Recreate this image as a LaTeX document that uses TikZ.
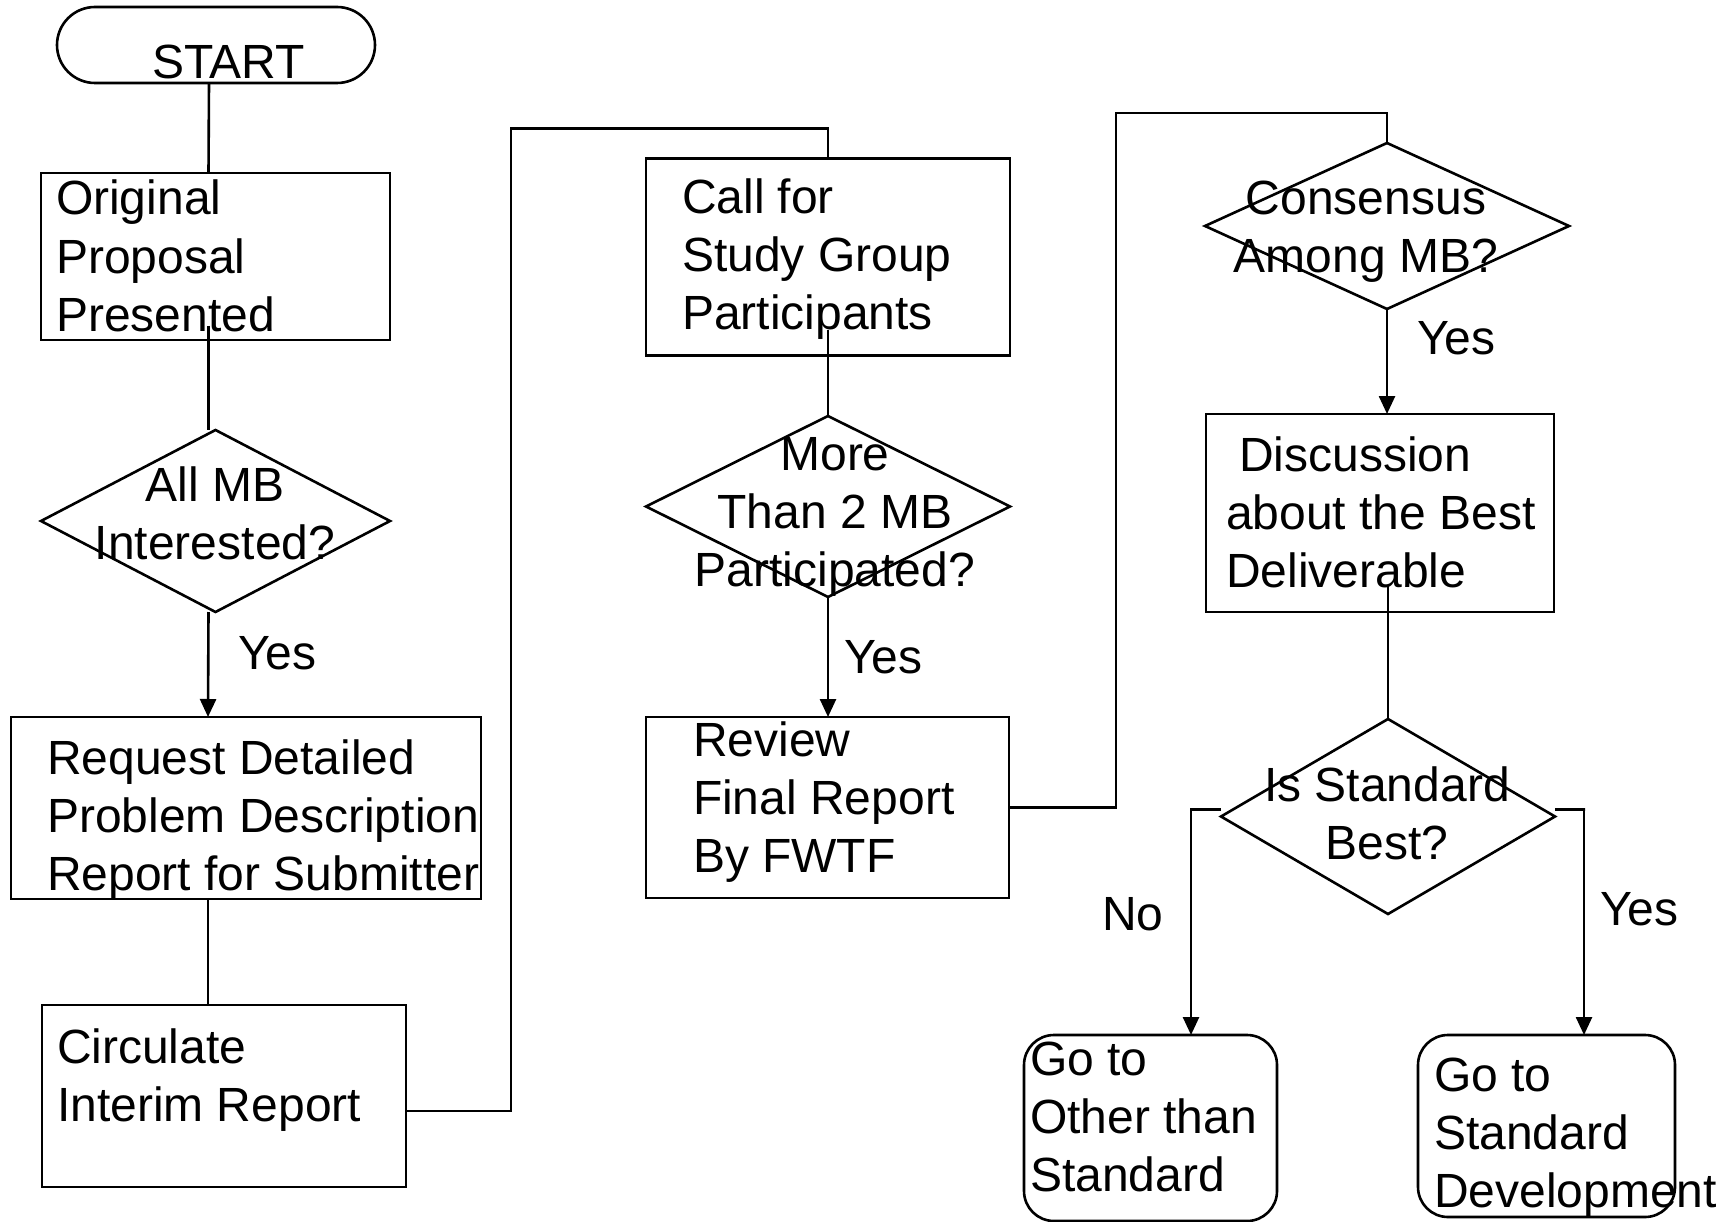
\documentclass[tikz,border=0pt]{standalone}
\usepackage{fontspec}
\setmainfont{Liberation Sans}
\usetikzlibrary{shapes.geometric,arrows.meta}
\begin{document}
\begin{tikzpicture}[x=1pt,y=-1pt,
  every node/.style={inner sep=0pt,outer sep=0pt},
  box/.style={draw,line width=2.6pt,rectangle},
  dia/.style={draw,line width=2.6pt,diamond},
  txt/.style={font=\fontsize{48pt}{58pt}\selectfont,align=left,anchor=base west},
  ctxt/.style={font=\fontsize{48pt}{58pt}\selectfont,align=center,anchor=base},
  conn/.style={line width=2.6pt},
  arr/.style={line width=2.6pt,-{Triangle[length=18pt,width=16pt]}}
]
\fill[white] (0,0) rectangle (1731,1222);
\useasboundingbox (0,0) rectangle (1731,1222);

% shapes
\node[box,rounded corners=38pt,minimum width=318pt,minimum height=76pt] (start) at (216,45) {};
\node[box,minimum width=349pt,minimum height=167pt] (orig) at (215.5,256.5) {};
\node[dia,minimum width=349pt,minimum height=182pt] (allmb) at (215.5,521) {};
\node[box,minimum width=470pt,minimum height=182pt] (req) at (246,808) {};
\node[box,minimum width=364pt,minimum height=182pt] (circ) at (224,1096) {};
\node[box,minimum width=364pt,minimum height=197pt] (call) at (828,257) {};
\node[dia,minimum width=364pt,minimum height=181pt] (more) at (828,506.5) {};
\node[box,minimum width=363pt,minimum height=181pt] (rev) at (827.5,807.5) {};
\node[dia,minimum width=364pt,minimum height=166pt] (cons) at (1387,226) {};
\node[box,minimum width=348pt,minimum height=198pt] (disc) at (1380,513) {};
\node[dia,minimum width=334pt,minimum height=195pt] (isstd) at (1388,816.5) {};
\node[box,rounded corners=30pt,minimum width=253pt,minimum height=186pt] (other) at (1150.5,1128) {};
\node[box,rounded corners=30pt,minimum width=257pt,minimum height=182pt] (gostd) at (1546.5,1126) {};

% texts (anchored at the baseline of the last line)
\node[txt] (tstart) at (152,79) {START};
\node[txt] (torig) at (56,331) {Original\\Proposal\\Presented};
\node[ctxt] (tallmb) at (215,559.5) {All MB\\Interested?};
\node[txt] (treq) at (47,890) {Request Detailed\\Problem Description\\Report for Submitter};
\node[txt] (tcirc) at (57,1121) {Circulate\\Interim Report};
\node[txt] (tcall) at (682,330) {Call for\\Study Group\\Participants};
\node[ctxt] (tmore) at (835,586) {More\\Than 2 MB\\Participated?};
\node[txt] (trev) at (693,872) {Review\\Final Report\\By FWTF};
\node[ctxt] (tcons) at (1366,273) {Consensus\\Among MB?};
\node[txt] (tdisc) at (1226,587) {\hspace*{13pt}Discussion\\about the Best\\Deliverable};
\node[ctxt] (tisstd) at (1387,859) {Is Standard\\Best?};
\node[txt] (tother) at (1030,1191) {Go to\\Other than\\Standard};
\node[txt] (tgostd) at (1434,1207) {Go to\\Standard\\Development};

% labels
\node[txt] (yes1) at (238,669) {Yes};
\node[txt] (yes2) at (844,673) {Yes};
\node[txt] (yes3) at (1417,355) {Yes};
\node[txt] (no4) at (1102,930) {No};
\node[txt] (yes4) at (1600,925) {Yes};

% connectors
\draw[conn] ([xshift=-7pt]start.south) -- ([xshift=-7pt]orig.north);
\draw[conn] ([xshift=-7pt,yshift=14pt]orig.south) -- ([xshift=-7pt]allmb.north);
\draw[arr] ([xshift=-7pt]allmb.south) -- ([xshift=-38pt]req.north);
\draw[conn] ([xshift=-38pt]req.south) -- ([xshift=-16pt]circ.north);
\draw[conn] ([yshift=-15pt]circ.east) -- ++(105,0) |- ([yshift=30pt]call.north) -- (call.north);
\draw[conn] ([yshift=25pt]call.south) -- (more.north);
\draw[arr] (more.south) -- (more.south |- rev.north);
\draw[conn] (rev.east) -- ++(107,0) |- ([yshift=30pt]cons.north) -- (cons.north);
\draw[arr] (cons.south) -- (cons.south |- disc.north);
\draw[conn] (isstd.north |- disc.south) ++(0,-27) -- (isstd.north);
\draw[arr] ([yshift=7pt]isstd.west) -- ++(-30,0) -| ([xshift=40.5pt]other.north);
\draw[arr] ([yshift=7pt]isstd.east) -- ++(30,0) -| ([xshift=37.5pt]gostd.north);
\end{tikzpicture}
\end{document}
